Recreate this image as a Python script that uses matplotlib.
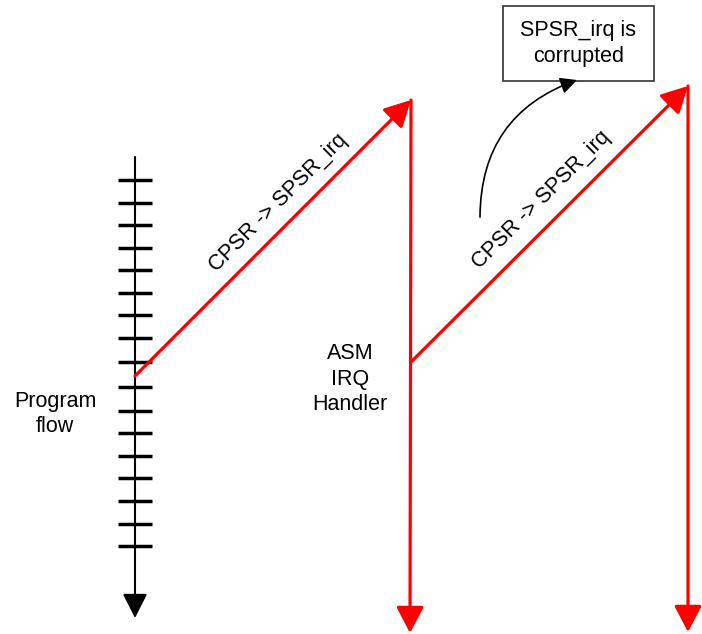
import matplotlib.pyplot as plt
from matplotlib.patches import Rectangle, FancyArrowPatch

plt.rcParams['font.family'] = ['Liberation Sans', 'DejaVu Sans']

# canvas is in pixel units (702 x 634, y pointing down)
W, H = 702, 634

# program flow axis
flow_x = 135
flow_top = 157
flow_tip = 618
tick_y = [180, 203, 225, 248, 270, 293, 315, 338, 362, 387,
          411, 433, 456, 478, 501, 524, 546]
tick_half = 17

# red jumps: diagonal (start -> tip), then vertical drop
jump_start = [(135, 376), (411, 362)]
jump_tip = [(411, 100), (688, 86)]
drop_end = [(410, 633), (688, 632)]

jump_label = 'CPSR -> SPSR_irq'
jump_label_pos = [(278, 203), (541, 200)]

box_xy = (503, 6)
box_w, box_h = 151, 75
box_text = 'SPSR_irq is\ncorrupted'

curve_start = (480, 217)
curve_end = (577, 80)

labels = [('Program\nflow', (55, 414)), ('ASM\nIRQ\nHandler', (350, 379))]

fig = plt.figure(figsize=(W / 100, H / 100), dpi=100)
ax = fig.add_axes([0, 0, 1, 1])
ax.set_xlim(0, W)
ax.set_ylim(H, 0)
ax.axis('off')

# black axis with ticks
ax.annotate('', xy=(flow_x, flow_tip), xytext=(flow_x, flow_top),
            arrowprops=dict(arrowstyle='-|>,head_length=0.75,head_width=0.38',
                            mutation_scale=20, lw=1.5, color='black',
                            shrinkA=0, shrinkB=0))
for y in tick_y:
    ax.plot([flow_x - tick_half, flow_x + tick_half], [y, y], color='black', lw=2.5,
            solid_capstyle='butt')

# red jumps
red = '#ff0000'
for s, t, d in zip(jump_start, jump_tip, drop_end):
    ax.annotate('', xy=t, xytext=s,
                arrowprops=dict(arrowstyle='-|>,head_length=0.8,head_width=0.42',
                                mutation_scale=20, lw=2.3, color=red,
                                shrinkA=0, shrinkB=0))
    ax.annotate('', xy=d, xytext=t,
                arrowprops=dict(arrowstyle='-|>,head_length=0.8,head_width=0.42',
                                mutation_scale=20, lw=2.3, color=red,
                                shrinkA=0, shrinkB=0))

for pos in jump_label_pos:
    ax.text(pos[0], pos[1], jump_label, fontsize=15.5, rotation=45,
            rotation_mode='anchor', ha='center', va='center')

# corrupted box + curved arrow
ax.add_patch(Rectangle(box_xy, box_w, box_h, fill=False, edgecolor='#333333', lw=1.2))
ax.text(box_xy[0] + box_w / 2, box_xy[1] + box_h / 2, box_text, fontsize=15.5,
        ha='center', va='center', linespacing=1.3)
ax.add_patch(FancyArrowPatch(curve_start, curve_end, connectionstyle='arc3,rad=-0.35',
                             arrowstyle='-|>,head_length=0.5,head_width=0.25',
                             mutation_scale=20, lw=1.2, color='black',
                             shrinkA=0, shrinkB=0))

for txt, pos in labels:
    ax.text(pos[0], pos[1], txt, fontsize=15.5, ha='center', va='center',
            linespacing=1.3)

fig.savefig('out.png', dpi=100)
